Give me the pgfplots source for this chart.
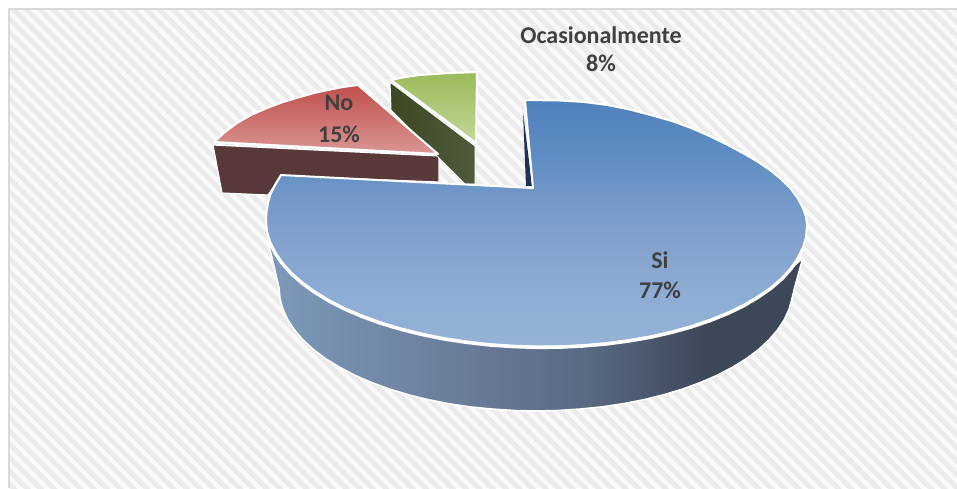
\documentclass[border=0pt]{standalone}
\usepackage{fontspec}
\setmainfont{Carlito}
\usepackage{pgfplots}
\pgfplotsset{compat=1.18}
\usetikzlibrary{patterns.meta}
\pgfdeclarehorizontalshading{wallblue}{100bp}{
 rgb(0bp)=(0.490,0.600,0.730);
 rgb(25bp)=(0.490,0.600,0.730);
 rgb(42bp)=(0.420,0.495,0.610);
 rgb(55bp)=(0.345,0.412,0.510);
 rgb(66bp)=(0.235,0.278,0.345);
 rgb(75bp)=(0.235,0.278,0.345);
 rgb(100bp)=(0.235,0.278,0.345)}
\pgfdeclarehorizontalshading{wallgreen}{100bp}{
 rgb(0bp)=(0.235,0.282,0.133);
 rgb(25bp)=(0.235,0.282,0.133);
 rgb(75bp)=(0.310,0.353,0.235);
 rgb(100bp)=(0.310,0.353,0.235)}
\pgfdeclareverticalshading{topblue}{100bp}{
 rgb(0bp)=(0.584,0.702,0.843);
 rgb(25bp)=(0.584,0.702,0.843);
 rgb(36.4bp)=(0.553,0.675,0.831);
 rgb(50bp)=(0.494,0.624,0.800);
 rgb(63.4bp)=(0.376,0.553,0.761);
 rgb(75bp)=(0.310,0.506,0.741);
 rgb(100bp)=(0.310,0.506,0.741)}
\definecolor{txt}{HTML}{404040}
\tikzset{lab/.style={font=\fontsize{12}{14}\selectfont\bfseries, text=txt}}
\begin{document}
\begin{tikzpicture}
\begin{axis}[
  hide axis, scale only axis, width=478.5pt, height=244pt,
  xmin=0, xmax=957, ymin=0, ymax=488, y dir=reverse,
  clip=true, enlargelimits=false,
  every axis plot/.append style={mark=none, line join=round}]
% background
\addplot[draw=none, fill=white] coordinates {(0,0)(957,0)(957,488)(0,488)(0,0)};
\addplot[draw=none, fill=black!2] coordinates {(9,9)(957,9)(957,488)(9,488)(9,9)};
\addplot[draw=none, pattern={Lines[angle=-45,distance=4.7pt,line width=2.4pt]}, pattern color=black!8] coordinates {(9,9)(957,9)(957,488)(9,488)(9,9)};
\addplot[draw=black!15, line width=0.8pt] coordinates {(9,488)(9,9)(957,9)};
% red wall
\addplot[draw=white, line width=0.6pt, fill={rgb,255:red,88;green,56;blue,57}] coordinates {(213,145)(439,156)(439,182)(281,176)(268,195)(222,193)(213,145)};
% green wall
\addplot[draw=white, line width=0.5pt, shading=wallgreen] coordinates {(390,82)(475,146)(475,184)(465,184)(391,110)(390,82)};
% blue inner sliver
\addplot[draw=none, fill={rgb,255:red,28;green,50;blue,90}] coordinates {(523,112)(526,186)(532,186)(523,112)};
% red top
\addplot[draw=white, line width=1pt, top color={rgb,255:red,192;green,80;blue,77}, bottom color={rgb,255:red,218;green,150;blue,148}] coordinates {(358,85)(343,87)(328,90)(314,93)(300,97)(283,102)(267,108)(251,115)(237,123)(225,132)(214,142)(438,154)(358,85)};
% green top
\addplot[draw=white, line width=1pt, top color={rgb,255:red,155;green,187;blue,89}, bottom color={rgb,255:red,196;green,215;blue,155}] coordinates {(391,80)(405,77)(420,75)(435,74)(450,73)(464,72.5)(477,72)(476,143)(391,80)};
% blue wall
\addplot[draw=white, line width=0.8pt, shading=wallblue] coordinates {(268,242)(282.3,262.8)(302.2,282.4)(329.3,300.3)(362.6,315.8)(401.2,328.5)(444,338.1)(489.5,344.1)(536.5,346.5)(583.5,345.1)(629,340.1)(671.8,331.5)(710.4,319.6)(743.7,304.9)(770.8,287.6)(790.7,268.4)(803,258)(800,268)(797,279)(794,290)(792,298.7)(789,309.4)(784.2,319.8)(777.5,330)(768.9,340)(758.6,349.5)(746.5,358.6)(732.9,367)(717.7,375)(701.2,382.2)(683.4,388.8)(664.5,394.5)(644.6,399.5)(623.9,403.6)(602.5,406.8)(580.6,409)(558.4,410.5)(536,411)(513.6,410.5)(491.4,409)(469.5,406.8)(448.1,403.6)(427.4,399.5)(407.5,394.5)(388.6,388.8)(370.8,382.2)(354.3,375)(339.1,367)(325.5,358.6)(313.4,349.5)(303.1,340)(294.5,330)(287.8,319.8)(283,309.4)(280,298.7)(279,288)(276,275)(272,258)(268,242)};
% blue top
\addplot[draw=white, line width=1pt, shading=topblue] coordinates {(525,100)(560,100.5)(583.5,101.9)(606.5,104.9)(629,109.3)(651,115.1)(672,121)(691.6,128.2)(710.4,136.4)(727.8,145)(743.7,153.5)(758,161.9)(770.8,170.6)(781.7,179.6)(790.7,188.6)(797.8,198.4)(802.9,208)(806,216.8)(807,225)(806,237.2)(802.9,247.8)(797.8,258.2)(790.7,268.4)(781.7,278.2)(770.8,287.6)(758,296.4)(743.7,304.9)(727.8,312.6)(710.4,319.6)(691.6,326)(671.8,331.5)(650.8,336.3)(629,340.1)(606.5,343.1)(583.5,345.1)(560,346.3)(536.5,346.5)(513,345.7)(489.5,344.1)(466.5,341.5)(444,338.1)(422.2,333.7)(401.2,328.5)(381.4,322.6)(362.6,315.8)(345.2,308.4)(329.3,300.3)(315,291.6)(302.2,282.4)(291.3,272.8)(282.3,262.8)(275.2,252.4)(270.1,242)(267,231.2)(266,220.5)(266.5,212)(268,203)(270.5,194)(275,185)(281,175)(533,188)(525,100)};
% white rim along the front of the top face
\addplot[draw=white, line width=1.6pt] coordinates {(270.1,243)(275.2,253.4)(282.3,263.8)(291.3,273.8)(302.2,283.4)(315,292.6)(329.3,301.3)(345.2,309.4)(362.6,316.8)(381.4,323.6)(401.2,329.5)(422.2,334.7)(444,339.1)(466.5,342.5)(489.5,345.1)(513,346.7)(536.5,347.5)(560,347.3)(583.5,346.1)(606.5,344.1)(629,341.1)(650.8,337.3)(671.8,332.5)(691.6,327)(710.4,320.6)(727.8,313.6)(743.7,305.9)(758,297.4)(770.8,288.6)(781.7,279.2)(790.7,269.4)(797.8,259.2)(802.9,248.8)};
% labels
\node[lab] at (axis cs:601,35) {Ocasionalmente};
\node[lab] at (axis cs:601,63) {8\%};
\node[lab] at (axis cs:339,103) {No};
\node[lab] at (axis cs:339,134) {15\%};
\node[lab] at (axis cs:660,260) {Si};
\node[lab] at (axis cs:660,290) {77\%};
\end{axis}
\end{tikzpicture}
\end{document}
